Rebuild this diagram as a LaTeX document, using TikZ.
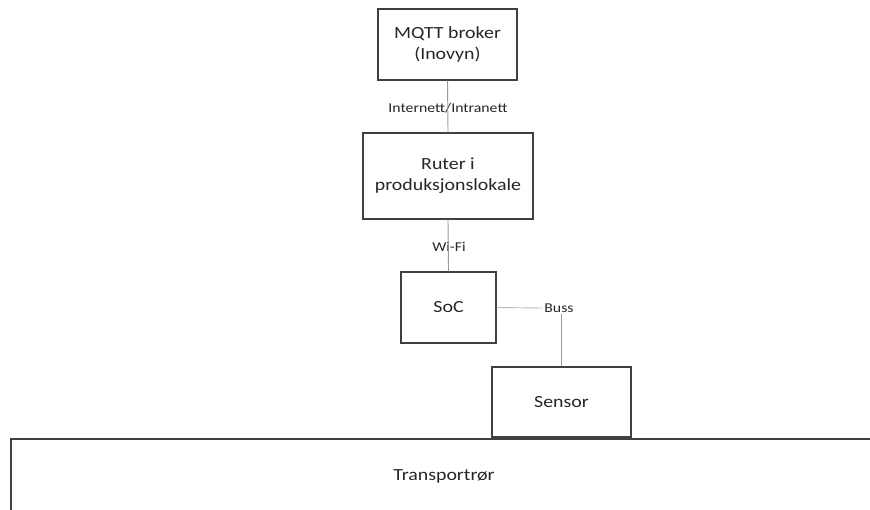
\documentclass[tikz,border=0pt]{standalone}
\usepackage{fontspec}
\setmainfont{Carlito}[FakeStretch=1.17]
\begin{document}
\begin{tikzpicture}[x=1pt,y=-1pt,
  box/.style={draw=black!75,line width=1.3pt,fill=white,inner sep=0pt,align=center,
    font=\fontsize{17}{21}\selectfont,text=black!85},
  conn/.style={draw=black!40,line width=0.9pt},
  lbl/.style={fill=white,inner sep=1.5pt,font=\fontsize{13.5}{16}\selectfont,text=black!85}]
\useasboundingbox (0,0) rectangle (870,509);
\node[box,minimum width=139pt,minimum height=71pt] (mqtt) at (447.5,44.5) {MQTT broker\\(Inovyn)};
\node[box,minimum width=170pt,minimum height=86pt] (ruter) at (448,176) {Ruter i\\produksjonslokale};
\node[box,minimum width=95pt,minimum height=71pt] (soc) at (448.5,307.5) {SoC};
\node[box,minimum width=139pt,minimum height=70pt] (sensor) at (561.5,402) {Sensor};
\node[lbl] (inet) at (448,108) {Internett/Intranett};
\node[lbl] (wifi) at (449,247) {Wi-Fi};
\node[lbl,fill=none] (buss) at (559,308) {Buss};
\draw[conn] (mqtt.south) -- (ruter.north);
\draw[conn] (ruter.south) -- (soc.north);
\draw[conn,draw=black!20!blue!10!gray!50] (soc.east) -- (buss.west);
\draw[conn] (sensor.north) -- (sensor.north |- buss.south);
\coordinate (tl) at (11,439);
\coordinate (tr) at (872,439);
\coordinate (bl) at (11,512);
\draw[draw=black!75,line width=1.5pt] (bl) -- (tl) -- (tr);
\node[font=\fontsize{17}{21}\selectfont,text=black!85] (tube) at (444,476) {Transportrør};
\end{tikzpicture}
\end{document}
